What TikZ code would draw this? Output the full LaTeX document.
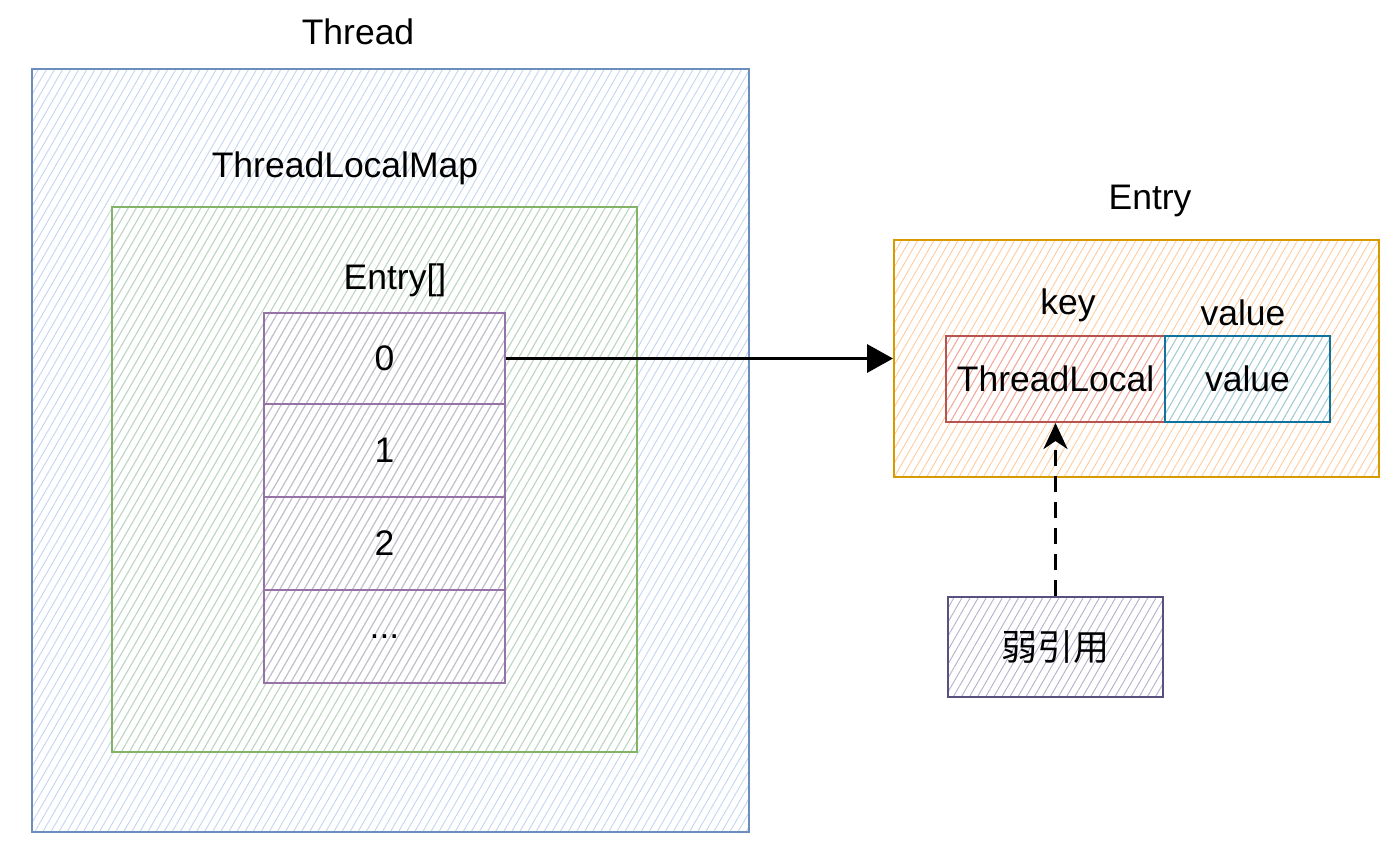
\documentclass[tikz,border=0pt]{standalone}
\usepackage{fontspec}
\setmainfont{Liberation Sans}
\newfontfamily\cjk{Noto Sans CJK SC}
\usetikzlibrary{patterns.meta,arrows.meta}
\definecolor{tblue}{HTML}{6C8EBF}
\definecolor{tbluef}{HTML}{C3D6F0}
\definecolor{tgreen}{HTML}{82B366}
\definecolor{tgreenf}{HTML}{BFD9B9}
\definecolor{tpurple}{HTML}{9673A6}
\definecolor{tpurplef}{HTML}{CABDD2}
\definecolor{torange}{HTML}{D79B00}
\definecolor{torangef}{HTML}{FFCC9E}
\definecolor{tred}{HTML}{B85450}
\definecolor{tredf}{HTML}{F0A9A6}
\definecolor{tcyan}{HTML}{10739E}
\definecolor{tcyanf}{HTML}{95CFEA}
\definecolor{tslate}{HTML}{56517E}
\definecolor{tslatef}{HTML}{B3B0CE}
\tikzset{
  hbox/.style 2 args={draw=#1, line width=2pt, pattern={Lines[angle=60,distance=7pt,line width=0.9pt]}, pattern color=#2, inner sep=0pt, rectangle},
  lbl/.style={font=\fontsize{35.5}{40}\selectfont, inner sep=0pt, text=black},
  ctext/.style={font=\fontsize{35.5}{40}\selectfont},
}
\begin{document}
\begin{tikzpicture}[x=1pt,y=-1pt]
\useasboundingbox (0,0) rectangle (1395,864);
\fill[white] (0,0) rectangle (1395,864);
% Thread
\node[hbox={tblue}{tbluef}, minimum width=717pt, minimum height=763pt] (thread) at (390.5,450.5) {};
\node[lbl] (threadl) at (358,32) {Thread};
% ThreadLocalMap
\node[hbox={tgreen}{tgreenf}, minimum width=525pt, minimum height=545pt] (tlm) at (374.5,479.5) {};
\node[lbl] (tlml) at (345,168) {ThreadLocalMap};
\node[lbl] (arrl) at (395,280) {Entry[]};
% cells
\node[hbox={tpurple}{tpurplef}, minimum width=241pt, minimum height=91pt, ctext] (c0) at (384.5,358.5) {0};
\node[hbox={tpurple}{tpurplef}, minimum width=241pt, minimum height=93pt, ctext] (c1) at (384.5,450.5) {1};
\node[hbox={tpurple}{tpurplef}, minimum width=241pt, minimum height=93pt, ctext] (c2) at (384.5,543.5) {2};
\node[hbox={tpurple}{tpurplef}, minimum width=241pt, minimum height=93pt, ctext] (c3) at (384.5,636.5) {...};
% Entry
\node[hbox={torange}{torangef}, minimum width=485pt, minimum height=237pt] (entry) at (1136.5,358.5) {};
\node[lbl] (entryl) at (1150,201) {Entry};
\node[lbl] (keyl) at (1068,305) {key};
\node[lbl] (valuel) at (1243,313) {value};
\node[hbox={tred}{tredf}, minimum width=219pt, minimum height=86pt, ctext] (tl) at (1055.5,379) {ThreadLocal};
\node[hbox={tcyan}{tcyanf}, minimum width=165pt, minimum height=86pt, ctext] (val) at (1247.5,379) {value};
% weak ref
\node[hbox={tslate}{tslatef}, minimum width=215pt, minimum height=100pt, font=\cjk\fontsize{36}{40}\selectfont] (weak) at (1055.5,647) {弱引用};
% connectors
\draw[line width=3.5pt, -{Triangle[length=26pt,width=28pt]}] (c0.east) -- (entry.west);
\draw[line width=3.5pt, dash pattern=on 16pt off 10pt, -{Stealth[length=26pt,width=24pt,inset=8pt]}] (weak.north) -- (tl.south);
\end{tikzpicture}
\end{document}
